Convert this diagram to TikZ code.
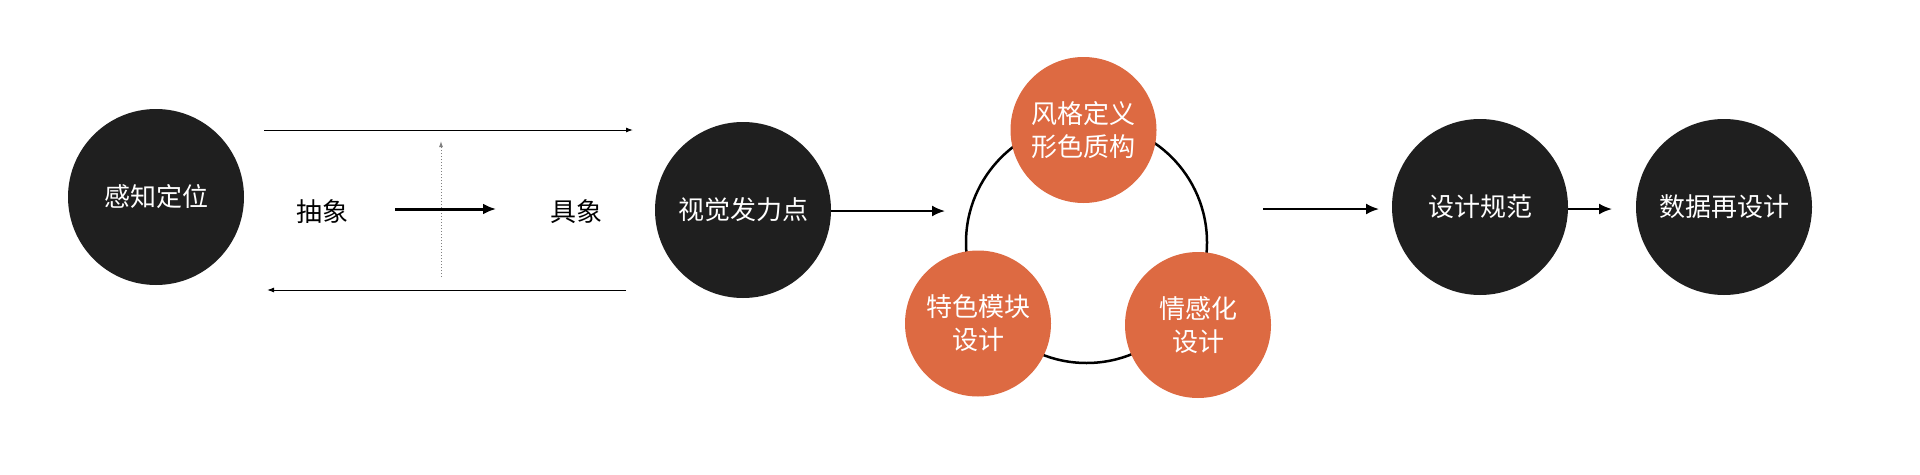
\documentclass[tikz,border=0pt]{standalone}
\usepackage{fontspec}
\setmainfont{Noto Sans CJK SC}
\usetikzlibrary{arrows.meta}
\definecolor{blk}{HTML}{1F1F1F}
\definecolor{org}{HTML}{DD6A42}
\begin{document}
\begin{tikzpicture}[x=1pt,y=-1pt,
  bigc/.style={circle,fill=blk,minimum size=176pt,inner sep=0pt,text=white,font=\fontsize{26}{32}\selectfont},
  orc/.style={circle,fill=org,minimum size=146pt,inner sep=0pt,text=white,align=center,font=\fontsize{26}{33}\selectfont},
  lbl/.style={font=\fontsize{26}{32}\selectfont,text=black,inner sep=0pt},
  thinarr/.style={-{Latex[length=7pt,width=5pt]},line width=1pt},
  boldarr/.style={-{Latex[length=13pt,width=11pt]},line width=3pt},
  midarr/.style={-{Latex[length=13pt,width=11pt]},line width=2pt},
  dotarr/.style={-{Latex[length=6pt,width=4pt]},gray,dotted,line width=1pt},
  ring/.style={circle,draw=black,line width=2.5pt,minimum size=241pt,inner sep=0pt}
]
\useasboundingbox (0,0) rectangle (1920,474);
\fill[white] (0,0) rectangle (1920,474);

\node[bigc] (a) at (156,197) {感知定位};
\node[bigc] (b) at (743,210) {视觉发力点};
\node[bigc] (c) at (1480,207) {设计规范};
\node[bigc] (d) at (1724,207) {数据再设计};

\node[lbl] (abs) at (322,212) {抽象};
\node[lbl] (con) at (576,212) {具象};

\coordinate (t1) at (264,130);
\coordinate (t2) at (633,130);
\coordinate (b1) at (626,290);
\coordinate (b2) at (267,290);
\coordinate (v1) at (441,277);
\coordinate (v2) at (441,141);
\coordinate (m1) at (395,209);
\coordinate (m2) at (496,209);

\draw[dotarr] (v1) -- (v2);
\draw[thinarr] (t1) -- (t2);
\draw[thinarr] (b1) -- (b2);
\draw[boldarr] (m1) -- (m2);

\node[ring] (r) at (1086.5,242.5) {};
\node[orc] (o1) at (1083.5,130) {风格定义\\形色质构};
\node[orc] (o2) at (978,323.5) {特色模块\\设计};
\node[orc] (o3) at (1198,325) {情感化\\设计};

\coordinate (e1) at (945,211);
\coordinate (f1) at (1263,209);
\coordinate (f2) at (1379,209);
\coordinate (g2) at (1612,209);

\draw[midarr] (b.east |- e1) -- (e1);
\draw[midarr] (f1) -- (f2);
\draw[midarr] (c.east |- g2) -- (g2);
\end{tikzpicture}
\end{document}
